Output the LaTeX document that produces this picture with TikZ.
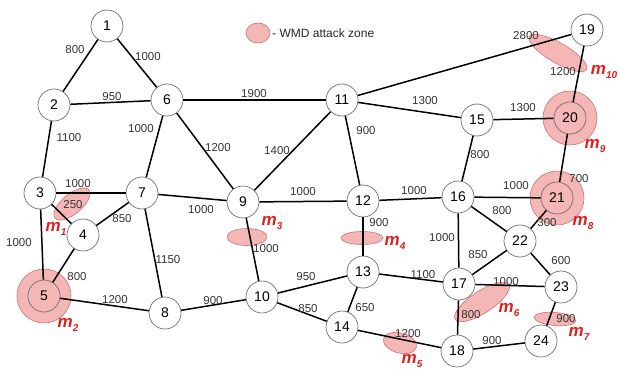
\documentclass[tikz,border=0pt]{standalone}
\usepackage{fontspec}
\setmainfont{Liberation Sans}
\definecolor{zonefill}{RGB}{245,182,182}
\definecolor{zoneline}{RGB}{205,115,115}
\definecolor{mred}{RGB}{225,30,30}
\definecolor{nodeline}{RGB}{110,110,110}
\tikzset{
 vtx/.style={circle, draw=nodeline, line width=0.7pt, fill=white, minimum size=32pt, inner sep=0pt, font=\fontsize{14}{14}\selectfont},
 vtxz/.style={vtx, fill=zonefill},
 edge/.style={line width=1.5pt, black},
 wl/.style={font=\fontsize{11.5}{11.5}\selectfont, inner sep=0pt, text=black!80},
 zone/.style={fill=zonefill, draw=zoneline, line width=0.6pt},
 mlab/.style={text=mred, font=\fontsize{17}{17}\selectfont\bfseries\itshape, inner sep=0pt},
}
\newcommand{\mm}[1]{m\raisebox{-0.45ex}{\fontsize{10}{10}\selectfont #1}}
\begin{document}
\begin{tikzpicture}[x=1pt,y=-1pt]
\useasboundingbox (0,0) rectangle (620,369);
% attack zones
\draw[zone] (44,296) circle (27pt);
\draw[zone] (570,118) circle (27pt);
\draw[zone] (557,198) circle (27pt);
\begin{scope}[shift={(72,204)},rotate=40]\draw[zone] (0,0) ellipse (22pt and 10pt);\end{scope}
\begin{scope}[shift={(247,237)}]\draw[zone] (0,0) ellipse (20pt and 8.5pt);\end{scope}
\begin{scope}[shift={(362,238)}]\draw[zone] (0,0) ellipse (21pt and 6.5pt);\end{scope}
\begin{scope}[shift={(400,343)},rotate=-15]\draw[zone] (0,0) ellipse (17pt and 10pt);\end{scope}
\begin{scope}[shift={(482,302)},rotate=33]\draw[zone] (0,0) ellipse (32pt and 11pt);\end{scope}
\begin{scope}[shift={(555,319)},rotate=-5]\draw[zone] (0,0) ellipse (21pt and 6.5pt);\end{scope}
\begin{scope}[shift={(558,53)},rotate=-30]\draw[zone] (0,0) ellipse (33pt and 10pt);\end{scope}
% legend
\draw[zone] (258,33) ellipse (12pt and 10pt);
\node[anchor=west, inner sep=0pt, font=\fontsize{12}{12}\selectfont, text=black!85] (leg) at (272,33) {- WMD attack zone};
% vertices
\node[vtx] (n1) at (107,26) {1};
\node[vtx] (n2) at (54,105) {2};
\node[vtx] (n3) at (40,193) {3};
\node[vtx] (n4) at (83,235) {4};
\node[vtxz] (n5) at (44,296) {5};
\node[vtx] (n6) at (167,100) {6};
\node[vtx] (n7) at (142,193) {7};
\node[vtx] (n8) at (165,313) {8};
\node[vtx] (n9) at (243,202) {9};
\node[vtx] (n10) at (262,297) {10};
\node[vtx] (n11) at (342,100) {11};
\node[vtx] (n12) at (363,201) {12};
\node[vtx] (n13) at (363,272) {13};
\node[vtx] (n14) at (342,327) {14};
\node[vtx] (n15) at (477,120) {15};
\node[vtx] (n16) at (458,197) {16};
\node[vtx] (n17) at (459,284) {17};
\node[vtx] (n18) at (457,351) {18};
\node[vtx] (n19) at (587,30) {19};
\node[vtxz] (n20) at (570,118) {20};
\node[vtxz] (n21) at (557,198) {21};
\node[vtx] (n22) at (520,241) {22};
\node[vtx] (n23) at (561,287) {23};
\node[vtx] (n24) at (541,341) {24};
% edges
\foreach \a/\b in {1/2,1/6,2/6,2/3,6/7,6/9,6/11,3/7,3/4,3/5,4/7,4/5,5/8,7/8,7/9,9/11,9/12,9/10,8/10,10/13,10/14,11/12,11/15,11/19,15/20,15/16,19/20,20/21,12/16,12/13,16/21,16/22,16/17,21/22,13/17,13/14,17/22,17/23,17/18,22/23,23/24,14/18,18/24}
  \draw[edge] (n\a) -- (n\b);
% weights
\node[wl] (w1) at (75,50) {800};
\node[wl] (w2) at (148,57) {1000};
\node[wl] (w3) at (112,97) {950};
\node[wl] (w4) at (254,94) {1900};
\node[wl] (w5) at (69,138) {1100};
\node[wl] (w6) at (141,129) {1000};
\node[wl] (w7) at (218,148) {1200};
\node[wl] (w8) at (277,151) {1400};
\node[wl] (w9) at (78,184) {1000};
\node[wl] (w10) at (73,205) {250};
\node[wl] (w11) at (122,219) {850};
\node[wl] (w12) at (19,243) {1000};
\node[wl] (w13) at (77,277) {800};
\node[wl] (w14) at (115,300) {1200};
\node[wl] (w15) at (168,260) {1150};
\node[wl] (w16) at (201,210) {1000};
\node[wl] (w17) at (303,192) {1000};
\node[wl] (w18) at (266,249) {1000};
\node[wl] (w19) at (213,301) {900};
\node[wl] (w20) at (306,277) {950};
\node[wl] (w21) at (308,309) {850};
\node[wl] (w22) at (425,101) {1300};
\node[wl] (w23) at (366,131) {900};
\node[wl] (w24) at (526,36) {2800};
\node[wl] (w25) at (563,72) {1200};
\node[wl] (w26) at (523,108) {1300};
\node[wl] (w27) at (480,155) {800};
\node[wl] (w28) at (579,179) {700};
\node[wl] (w29) at (414,191) {1000};
\node[wl] (w30) at (516,186) {1000};
\node[wl] (w31) at (502,211) {800};
\node[wl] (w32) at (547,223) {300};
\node[wl] (w33) at (379,223) {900};
\node[wl] (w34) at (442,238) {1000};
\node[wl] (w35) at (478,255) {850};
\node[wl] (w36) at (561,261) {600};
\node[wl] (w37) at (423,275) {1100};
\node[wl] (w38) at (506,282) {1000};
\node[wl] (w39) at (365,308) {650};
\node[wl] (w40) at (471,315) {800};
\node[wl] (w41) at (566,319) {900};
\node[wl] (w42) at (408,334) {1200};
\node[wl] (w43) at (492,341) {900};
% zone labels
\node[mlab] (m1) at (56,229) {\mm{1}};
\node[mlab] (m2) at (68,325) {\mm{2}};
\node[mlab] (m3) at (272,223) {\mm{3}};
\node[mlab] (m4) at (395,243) {\mm{4}};
\node[mlab] (m5) at (412,361) {\mm{5}};
\node[mlab] (m6) at (509,310) {\mm{6}};
\node[mlab] (m7) at (579,334) {\mm{7}};
\node[mlab] (m8) at (583,223) {\mm{8}};
\node[mlab] (m9) at (595,146) {\mm{9}};
\node[mlab] (m10) at (604,72) {\mm{10}};
\end{tikzpicture}
\end{document}
